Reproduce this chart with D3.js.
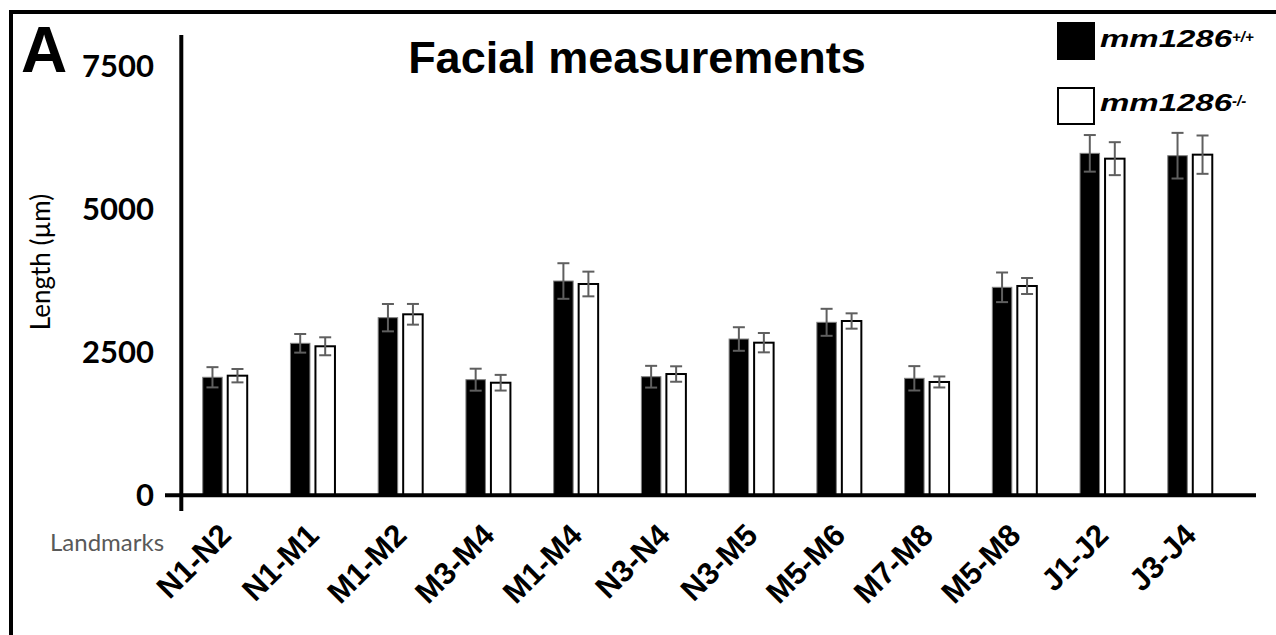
<!DOCTYPE html>
<html>
<head>
<meta charset="utf-8">
<script src="https://cdn.jsdelivr.net/npm/d3@7"></script>
<style>
  html, body { margin: 0; padding: 0; background: #fff; }
  svg { display: block; }
</style>
</head>
<body>
<svg id="chart" width="1276" height="635"></svg>
<script>
// ---- data ----
const categories = ["N1-N2","N1-M1","M1-M2","M3-M4","M1-M4","N3-N4","N3-M5","M5-M6","M7-M8","M5-M8","J1-J2","J3-J4"];
const series = ["mm1286+/+", "mm1286-/-"];
const wtValues = [2058, 2652, 3100, 2016, 3741, 2068, 2727, 3019, 2040, 3631, 5973, 5932];
const wtErrors = [177, 163, 239, 192, 311, 190, 206, 236, 213, 259, 320, 399];
const koValues = [2086, 2600, 3159, 1963, 3689, 2115, 2663, 3042, 1976, 3654, 5880, 5950];
const koErrors = [117, 157, 181, 137, 216, 135, 169, 134, 96, 140, 288, 335];
const yTicks = [0, 2500, 5000, 7500];

const svg = d3.select("#chart");

// frame
svg.append("rect").attr("x", 11).attr("y", 12).attr("width", 1400).attr("height", 800)
  .attr("fill", "none").attr("stroke", "#000").attr("stroke-width", 4);

// scales
const x = d3.scaleBand().domain(categories).range([181.1, 1233.9]);
const bw = x.bandwidth();
const xInner = d3.scaleBand().domain(series).range([bw/2 - 22.25, bw/2 + 22.25]).paddingInner(0.22);
const y = d3.scaleLinear().domain([0, 7500]).range([495, 66]);

const rows = categories.map((c, i) => ({
  cat: c,
  vals: [
    {s: series[0], v: wtValues[i], e: wtErrors[i]},
    {s: series[1], v: koValues[i], e: koErrors[i]}
  ]
}));

// bars
const g = svg.append("g");
const grp = g.selectAll("g.grp").data(rows).join("g").attr("class", "grp")
  .attr("transform", d => `translate(${x(d.cat)},0)`);

grp.selectAll("rect").data(d => d.vals).join("rect")
  .attr("x", d => xInner(d.s))
  .attr("width", xInner.bandwidth())
  .attr("y", d => y(d.v))
  .attr("height", d => y(0) - y(d.v))
  .attr("fill", (d, i) => i === 0 ? "#000" : "#fff")
  .attr("stroke", (d, i) => i === 0 ? "#808080" : "#000")
  .attr("stroke-width", (d, i) => i === 0 ? 1 : 2);

// error bars
const eb = grp.selectAll("g.eb").data(d => d.vals).join("g").attr("class", "eb")
  .attr("stroke", "#5f5f5f").attr("stroke-width", 2);
eb.append("line")
  .attr("x1", d => xInner(d.s) + xInner.bandwidth()/2)
  .attr("x2", d => xInner(d.s) + xInner.bandwidth()/2)
  .attr("y1", d => y(d.v + d.e)).attr("y2", d => y(d.v - d.e));
eb.append("line")
  .attr("x1", d => xInner(d.s) + xInner.bandwidth()/2 - 6)
  .attr("x2", d => xInner(d.s) + xInner.bandwidth()/2 + 6)
  .attr("y1", d => y(d.v + d.e)).attr("y2", d => y(d.v + d.e));
eb.append("line")
  .attr("x1", d => xInner(d.s) + xInner.bandwidth()/2 - 6)
  .attr("x2", d => xInner(d.s) + xInner.bandwidth()/2 + 6)
  .attr("y1", d => y(d.v - d.e)).attr("y2", d => y(d.v - d.e));

// axes lines
svg.append("line").attr("x1", 181.3).attr("x2", 181.3).attr("y1", 35).attr("y2", 511)
  .attr("stroke", "#000").attr("stroke-width", 4);
svg.append("line").attr("x1", 165).attr("x2", 1256).attr("y1", 495.3).attr("y2", 495.3)
  .attr("stroke", "#000").attr("stroke-width", 4);

// y tick labels
const yAxis = d3.axisLeft(y).tickValues(yTicks).tickSize(0).tickPadding(0).tickFormat(d3.format("d"));
const ya = svg.append("g").attr("transform", "translate(154,1)").call(yAxis);
ya.select(".domain").remove();
ya.selectAll("text").attr("font-family", "Lato").attr("font-weight", "bold")
  .attr("font-size", 31).attr("fill", "#000");

// x tick labels
const xAxis = d3.axisBottom(x).tickSize(0).tickPadding(0);
const xa = svg.append("g").attr("transform", "translate(0,495)").call(xAxis);
xa.select(".domain").remove();
xa.selectAll("text")
  .attr("font-family", "Liberation Sans, Arial, sans-serif").attr("font-weight", "bold")
  .attr("font-size", 31).attr("fill", "#000")
  .attr("text-anchor", "end").attr("dy", null)
  .attr("transform", "translate(8,42) rotate(-45)")
  .attr("y", 0);

// texts
svg.append("text").attr("x", 21).attr("y", 72).text("A")
  .attr("font-family", "Liberation Sans, Arial, sans-serif").attr("font-weight", "bold").attr("font-size", 64);
svg.append("text").attr("x", 637).attr("y", 73).attr("text-anchor", "middle").text("Facial measurements")
  .attr("font-family", "Liberation Sans, Arial, sans-serif").attr("font-weight", "bold").attr("font-size", 45);
svg.append("text").attr("transform", "translate(50,262) rotate(-90)").attr("text-anchor", "middle")
  .text("Length (\u00B5m)").attr("font-family", "Lato").attr("font-size", 26).attr("fill", "#000");
svg.append("text").attr("x", 50).attr("y", 551).text("Landmarks")
  .attr("font-family", "Lato").attr("font-size", 24).attr("fill", "#595959");

// legend
const legend = svg.append("g");
const legItems = [
  {label: "mm1286", sup: "+/+", fill: "#000", y: 22, base: 47},
  {label: "mm1286", sup: "-/-", fill: "#fff", y: 88, base: 111}
];
legItems.forEach((d, i) => {
  legend.append("rect").attr("x", i === 0 ? 1057 : 1058).attr("y", d.y)
    .attr("width", i === 0 ? 38 : 36).attr("height", i === 0 ? 38 : 36)
    .attr("fill", d.fill).attr("stroke", "#000").attr("stroke-width", i === 0 ? 0 : 2);
  const t = legend.append("text").attr("x", 1100).attr("y", d.base)
    .attr("font-family", "Liberation Sans, Arial, sans-serif").attr("font-weight", "bold")
    .attr("font-style", "italic").attr("font-size", 24);
  t.append("tspan").text(d.label).attr("textLength", 132).attr("lengthAdjust", "spacingAndGlyphs");
  legend.append("text").attr("x", 1232).attr("y", d.base - 5).text(d.sup)
    .attr("font-family", "Liberation Sans, Arial, sans-serif").attr("font-weight", "bold")
    .attr("font-style", "italic").attr("font-size", 15);
});
</script>
</body>
</html>
